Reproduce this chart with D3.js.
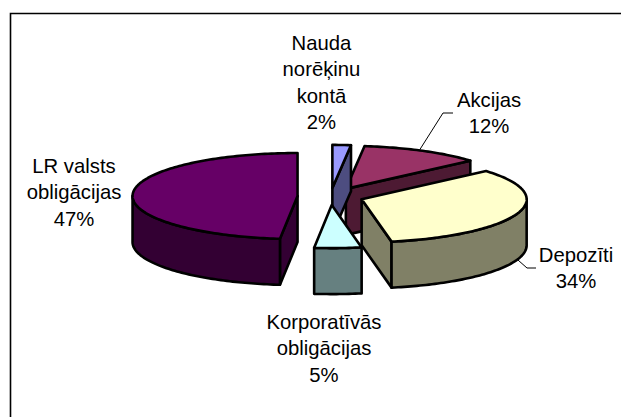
<!DOCTYPE html>
<html><head><meta charset="utf-8">
<style>html,body{margin:0;padding:0;background:#fff}svg{display:block}text{font-family:"Liberation Sans",Arial,sans-serif;font-size:20.3px;fill:#000}</style>
<script src="https://cdn.jsdelivr.net/npm/d3@7"></script>
</head><body>
<script>
// Data
const categories = ["Nauda norēķinu kontā","Akcijas","Depozīti","Korporatīvās obligācijas","LR valsts obligācijas"];
const printedPercents = ["2%","12%","34%","5%","47%"];
const sliceShares = [1.8,11.8,33.5,4.6,48.3];
const topColors = ["#9999ff","#993366","#ffffcc","#ccffff","#660066"];
const sideColors = ["#4d4d80","#4d1a33","#808066","#668080","#330033"];
const labelLines = [["Nauda","norēķinu","kontā"],["Akcijas"],["Depozīti"],["Korporatīvās","obligācijas"],["LR valsts","obligācijas"]];

// Layout
const W=621,H=417, cx=330.5, cy=196.5, rx=165, ry=43, depth=46, explode=0.2;
const drawOrder=[1,0,4,2,3];
const labelAnchors=[[321.5,50],[489,107],[576,262],[324,329],[74,173]];
const lineGap=26.3;

const svg=d3.select("body").append("svg").attr("width",W).attr("height",H);
svg.append("path").attr("d",`M10.5,${H}V13.5H${W}`).attr("fill","none").attr("stroke","#000").attr("stroke-width",1.6);

const arcs=d3.pie().sort(null).value(d=>d)(sliceShares);
const px=d3.scaleLinear().domain([-1,1]).range([-rx,rx]);
const py=d3.scaleLinear().domain([-1,1]).range([-ry,ry]);
const line=d3.line();
const closed=d3.line().curve(d3.curveLinearClosed);

function apex(a){const m=(a.startAngle+a.endAngle)/2;return [cx+explode*px(Math.sin(m)),cy+explode*py(-Math.cos(m))];}
function rim(a,t){const c=apex(a);return [c[0]+px(Math.sin(t)),c[1]+py(-Math.cos(t))];}
function samples(t0,t1){const n=Math.max(2,Math.ceil((t1-t0)/0.02));return d3.range(n+1).map(i=>t0+(t1-t0)*i/n);}
const down=p=>[p[0],p[1]+depth];
const g=svg.append("g").attr("stroke","#000").attr("stroke-width",2.6).attr("stroke-linejoin","round");

drawOrder.forEach(i=>{
  const a=arcs[i],c=apex(a),sl=g.append("g");
  const face=t=>{const p=rim(a,t);sl.append("path").attr("d",closed([c,p,down(p),down(c)])).attr("fill",sideColors[i]);};
  if(Math.sin(a.startAngle)<-1e-3) face(a.startAngle);
  if(Math.sin(a.endAngle)>1e-3) face(a.endAngle);
  const t0=Math.max(a.startAngle,Math.PI/2),t1=Math.min(a.endAngle,Math.PI*1.5);
  if(t1>t0){const top=samples(t0,t1).map(t=>rim(a,t));
    sl.append("path").attr("d",closed(top.concat(top.map(down).reverse()))).attr("fill",sideColors[i]);}
  const pts=[c].concat(samples(a.startAngle,a.endAngle).map(t=>rim(a,t)));
  sl.append("path").attr("d",closed(pts)).attr("fill",topColors[i]);
});

// Leader lines start on the rim of their slice
const leaders=[[1,0.47,[[443,113],[453,113]]],[2,0.5,[[527,268],[536,268]]]];
leaders.forEach(([i,f,rest])=>{
  const a=arcs[i],p=rim(a,a.startAngle+(a.endAngle-a.startAngle)*f);
  const start=i===2?down(p):p;
  svg.append("path").attr("d",line([start,...rest])).attr("fill","none").attr("stroke","#000").attr("stroke-width",1);
});

categories.forEach((name,i)=>{
  const lines=labelLines[i].concat(printedPercents[i]);
  const t=svg.append("text").attr("text-anchor","middle").attr("aria-label",name);
  lines.forEach((s,k)=>t.append("tspan").attr("x",labelAnchors[i][0]).attr("y",labelAnchors[i][1]+k*lineGap).text(s));
});
</script>
</body></html>
